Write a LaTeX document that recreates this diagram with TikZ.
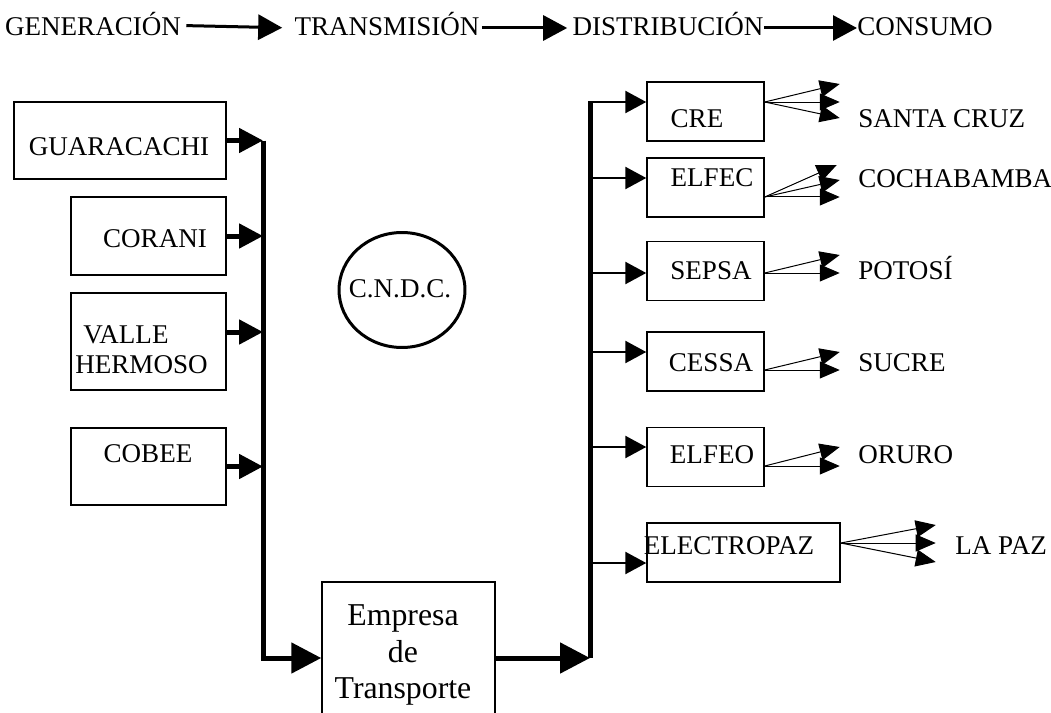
\documentclass[tikz,border=0pt]{standalone}
\usepackage{fontspec}
\setmainfont{Liberation Serif}
\usetikzlibrary{arrows.meta}
\usetikzlibrary{shapes.geometric}
\tikzset{
  box/.style={draw, line width=0.03cm, inner sep=0pt},
  dist/.style={box, minimum width=2.34cm, minimum height=1.18cm},
  txt/.style={inner sep=0pt, text height=0.88em, text depth=0pt},
  flow/.style={line width=0.06cm, -{Triangle[length=0.48cm,width=0.5cm]}},
  feed/.style={line width=0.1cm, -{Triangle[length=0.48cm,width=0.48cm]}},
  bus/.style={line width=0.1cm, -{Triangle[length=0.6cm,width=0.6cm]}},
  branch/.style={line width=0.05cm, -{Triangle[length=0.42cm,width=0.44cm]}},
  fan/.style={line width=0.02cm, -{Triangle[length=0.4cm,width=0.34cm]}}
}

\begin{document}
\begin{tikzpicture}[x=0.02cm, y=-0.02cm, font=\fontsize{15.4}{18}\selectfont]
    \useasboundingbox (0,0) rectangle (1051,713);
    \clip (0,0) rectangle (1051,713);

    % chain on top
    \node[txt] (gen) at (93,28) {GENERACIÓN};
    \node[txt] (tra) at (387,28) {TRANSMISIÓN};
    \node[txt] (dis) at (668,28) {DISTRIBUCIÓN};
    \node[txt] (con) at (925,28) {CONSUMO};
    \draw[flow,shorten <=0.1cm,shorten >=0.24cm] ([yshift=0.05cm]gen.east) -- (tra.west);
    \draw[flow,shorten <=0.04cm,shorten >=0.1cm] (tra.east) -- (dis.west);
    \draw[flow] (dis.east) -- (con.west);

    % generators
    \node[box, minimum width=4.24cm, minimum height=1.54cm] (gua) at (120,140.5) {};
    \node[txt] (gua-t) at (119,148) {GUARACACHI};
    \node[box, minimum width=3.1cm, minimum height=1.56cm] (cor) at (148.5,236) {};
    \node[txt] (cor-t) at (155,240) {CORANI};
    \node[box, minimum width=3.1cm, minimum height=1.94cm] (val) at (148.5,341.5) {};
    \node[inner sep=0pt, align=left, font=\fontsize{15.4}{17}\selectfont] (val-t) at (141.5,350) {\hspace{0.16cm}VALLE\\HERMOSO};
    \node[box, minimum width=3.1cm, minimum height=1.54cm] (cob) at (148.5,466.5) {};
    \node[txt] (cob-t) at (148,455) {COBEE};

    \coordinate (lt) at (263,140.5);
    \coordinate (lb) at (263,658);
    \coordinate (val-o) at ([yshift=0.19cm]val.east);
    \foreach \g in {gua,cor,val-o,cob}
      \draw[feed] (\g.east) -- (\g.east -| lt);

    % C.N.D.C.
    \node[draw, ellipse, line width=0.06cm, minimum width=2.52cm, minimum height=2.3cm] (cndc) at (402,290) {};
    \node[txt] (cndc-t) at (400,290) {C.N.D.C.};

    % transmission
    \node[box, minimum width=3.46cm, minimum height=3.04cm] (emp) at (408.5,658) {};
    \node[inner sep=0pt, align=center, font=\fontsize{18.1}{20.7}\selectfont] (emp-t) at (403,655) {Empresa\\de\\Transporte};
    \draw[bus] (lt) -- (lb) -- (emp.west);

    \coordinate (rb) at (590,658);
    \coordinate (rt) at (590,101);
    \draw[bus] (emp.east) -- (rb);
    \draw[line width=0.1cm] (rb) -- (rt);

    % distributors
    \node[dist] (cre) at (705.5,111.5) {};
    \node[txt] (cre-t) at (697,119.5) {CRE};
    \node[dist] (elfec) at (705.5,187.5) {};
    \node[txt] (elfec-t) at (712,179) {ELFEC};
    \node[dist] (sepsa) at (705.5,271) {};
    \node[txt] (sepsa-t) at (711,272) {SEPSA};
    \node[dist] (cessa) at (705.5,361.5) {};
    \node[txt] (cessa-t) at (711,364) {CESSA};
    \node[dist] (elfeo) at (705.5,457) {};
    \node[txt] (elfeo-t) at (712,456) {ELFEO};
    \node[dist, minimum width=3.86cm] (epaz) at (743.5,552.5) {};
    \node[txt] (epaz-t) at (729,547) {ELECTROPAZ};

    \foreach \b/\s in {cre/0.19, elfec/0.19, sepsa/-0.04, cessa/0.19, elfeo/0.2, epaz/-0.21}{
      \coordinate (\b-in) at ([yshift=\s cm]\b.west);
      \draw[branch] (rt |- \b-in) -- (\b-in);
    }

    % consumers
    \node[txt, anchor=west] (scz) at (858,119.5) {SANTA CRUZ};
    \node[txt, anchor=west] (cbba) at (858,180) {COCHABAMBA};
    \node[txt, anchor=west] (pts) at (858,272) {POTOSÍ};
    \node[txt, anchor=west] (scr) at (858,364) {SUCRE};
    \node[txt, anchor=west] (oru) at (858,456) {ORURO};
    \node[txt, anchor=west] (lpz) at (955,547) {LA PAZ};

    \coordinate (cre-out) at ([yshift=0.19cm]cre.east);
    \coordinate (elfec-out) at ([yshift=-0.19cm]elfec.east);
    \coordinate (sepsa-out) at ([yshift=-0.04cm]sepsa.east);
    \coordinate (cessa-out) at ([yshift=-0.17cm]cessa.east);
    \coordinate (elfeo-out) at ([yshift=-0.18cm]elfeo.east);
    \coordinate (epaz-out) at ([yshift=0.19cm]epaz.east);

    \foreach \d in {-18,0,16}
      \draw[fan] (cre-out) -- ++(75,\d) coordinate (cre-tip\d);
    \foreach \dx/\d in {72/-32,75/-17,75/0}
      \draw[fan] (elfec-out) -- ++(\dx,\d) coordinate (elfec-tip\d);
    \foreach \b/\d in {sepsa/-18,sepsa/0,cessa/-18,cessa/0,elfeo/-19,elfeo/0}
      \draw[fan] (\b-out) -- ++(75,\d) coordinate (\b-tip\d);
    \foreach \d in {-18,0,19}
      \draw[fan] (epaz-out) -- ++(95,\d) coordinate (epaz-tip\d);
\end{tikzpicture}
\end{document}
